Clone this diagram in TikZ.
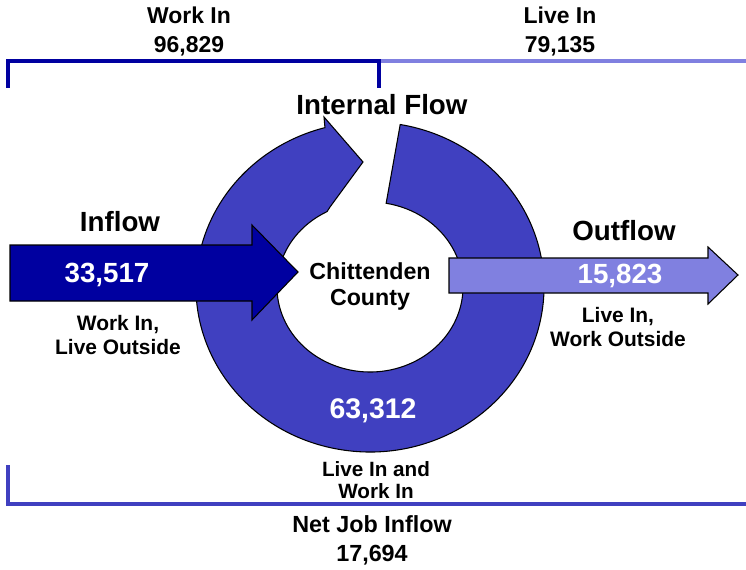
\documentclass[tikz,border=0pt]{standalone}
\usepackage{fontspec}
\setmainfont{Liberation Sans}
\usetikzlibrary{calc}

\definecolor{workblue}{RGB}{0,0,160}
\definecolor{flowblue}{RGB}{64,64,192}
\definecolor{liveblue}{RGB}{128,128,224}

\begin{document}
\begin{tikzpicture}[
        x=0.75pt, y=0.75pt,
        headtext/.style={font=\fontsize{20.8}{25}\selectfont\bfseries, inner sep=0pt},
        totaltext/.style={font=\fontsize{17.2}{21.75}\selectfont\bfseries, align=center, inner sep=0pt},
        sidetext/.style={font=\fontsize{15.7}{18}\selectfont\bfseries, align=center, inner sep=0pt},
        numtext/.style={font=\fontsize{20.8}{25}\selectfont\bfseries, text=white, inner sep=0pt},
        flowshape/.style={draw=black, line width=0.8pt, line join=miter},
        bracket/.style={line width=3pt, line join=miter}
    ]
        \useasboundingbox (0,0) rectangle (746,569);

        % Internal flow ring
        \coordinate (ctr) at (370,282);
        \path[flowshape, fill=flowblue] ($(ctr)+(80:174 and 165)$)
            arc[start angle=80, end angle=-255, x radius=174, y radius=165]
            -- (324,452) -- (363,407) -- (330,362)
            -- ($(ctr)+(117.5:93 and 85)$)
            arc[start angle=117.5, end angle=440, x radius=93, y radius=85] -- cycle;

        % Inflow and outflow arrows
        \path[flowshape, fill=workblue] (10,324) -- (252,324) -- (252,344) -- (298,297)
            -- (252,249) -- (252,268) -- (10,268) -- cycle;
        \path[flowshape, fill=liveblue] (449,311) -- (708,311) -- (708,322) -- (738,294)
            -- (708,265) -- (708,276) -- (449,276) -- cycle;

        % Brackets
        \coordinate (workbot) at (8,481);
        \coordinate (worktop) at (8,508);
        \coordinate (midtop) at (379,508);
        \coordinate (midbot) at (379,481);
        \coordinate (livetop) at (746,508);
        \coordinate (netup) at (8,104);
        \coordinate (netleft) at (8,65);
        \coordinate (netright) at (746,65);
        \draw[bracket, liveblue] (midtop) -- (livetop);
        \draw[bracket, workblue] (workbot) -- (worktop) -- (midtop) -- (midbot);
        \draw[bracket, flowblue] (netup) -- (netleft) -- (netright);

        % Labels
        \node[totaltext] (workin) at (189,538) {Work In\\96,829};
        \node[totaltext] (livein) at (560,538) {Live In\\79,135};
        \node[headtext] (internal) at (382,464) {Internal Flow};
        \node[headtext] (inflow) at (120,347) {Inflow};
        \node[headtext] (outflow) at (624,338) {Outflow};
        \node[numtext] (innum) at (107,294) {33,517};
        \node[numtext] (outnum) at (620,293) {15,823};
        \node[numtext, font=\fontsize{21.3}{25}\selectfont\bfseries] (stay) at (373,158) {63,312};
        \node[sidetext] (inlabel) at (118,234) {Work In,\\Live Outside};
        \node[sidetext] (outlabel) at (618,242) {Live In,\\Work Outside};
        \node[totaltext, font=\fontsize{17.4}{19.5}\selectfont\bfseries] (county) at (370,283) {Chittenden\\County};
        \node[sidetext, font=\fontsize{15.5}{16.5}\selectfont\bfseries] (staylabel) at (376,89) {Live In and\\Work In};
        \node[totaltext, font=\fontsize{17.5}{21.75}\selectfont\bfseries] (net) at (372,29) {Net Job Inflow\\17,694};
    \end{tikzpicture}
\end{document}
